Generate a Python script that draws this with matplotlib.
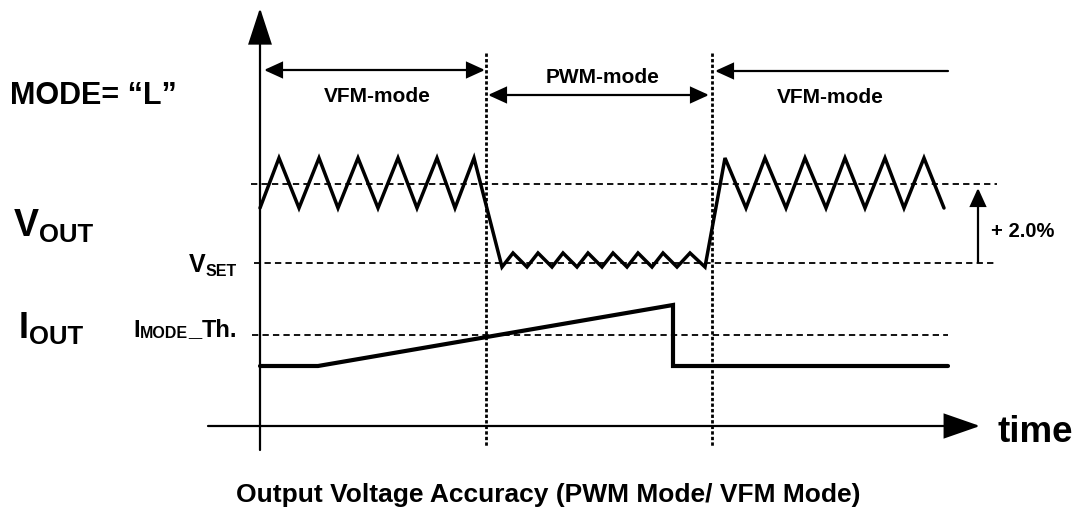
import matplotlib.pyplot as plt
from matplotlib.patches import FancyArrowPatch

plt.rcParams['font.family'] = ['Liberation Sans', 'DejaVu Sans']

# diagram units: pixels of the 1081x513 picture, y grows downward
vout_t = [260, 279, 299, 319, 338, 358, 378, 398, 417, 437, 455, 474,
          502, 513, 527, 538, 552, 563, 577, 588, 602, 613, 627, 638,
          652, 663, 677, 690, 705,
          725, 746, 765, 786, 805, 826, 845, 865, 885, 904, 924, 944]
vout_v = [208, 158, 208, 158, 208, 158, 208, 158, 208, 158, 208, 158,
          267, 253, 267, 253, 267, 253, 267, 253, 267, 253, 267, 253,
          267, 253, 267, 253, 267,
          158, 208, 158, 208, 158, 208, 158, 208, 158, 208, 158, 208]
iout_t = [260, 318, 673, 673, 948]
iout_v = [366, 366, 305, 366, 366]

v_upper = 184
v_set = 263
i_th = 335
mode_edges = [486, 712]
mode_names = ['VFM-mode', 'PWM-mode', 'VFM-mode']
title = 'Output Voltage Accuracy (PWM Mode/ VFM Mode)'

fig = plt.figure(figsize=(10.81, 5.13), dpi=100)
ax = fig.add_axes([0, 0, 1, 1])
ax.set_xlim(0, 1081)
ax.set_ylim(513, 0)
ax.axis('off')


def arrow(p0, p1, style, hl, hw, lw=1.6):
    ax.add_patch(FancyArrowPatch(p0, p1, arrowstyle=f'{style},head_length={hl},head_width={hw}',
                                 mutation_scale=1, lw=lw, color='black',
                                 shrinkA=0, shrinkB=0, joinstyle='miter'))


def label(x, y, parts, ha='left'):
    # parts: (text, fontsize, baseline shift)
    r = fig.canvas.get_renderer()
    objs = [ax.text(0, y + dy, s, fontsize=fs, fontweight='bold', va='baseline', ha='left')
            for s, fs, dy in parts]
    widths = [t.get_window_extent(r).width for t in objs]
    pos = x - sum(widths) if ha == 'right' else x
    for t, w in zip(objs, widths):
        t.set_x(pos)
        pos += w


# axes
arrow((260, 450), (260, 8), '-|>', 23, 7.5)
arrow((208, 426), (980, 426), '-|>', 23, 8)

# reference levels
dash = (0, (3.5, 2.3))
ax.plot([251, 997], [v_upper, v_upper], color='black', lw=1.3, ls=dash)
ax.plot([254, 997], [v_set, v_set], color='black', lw=1.3, ls=dash)
ax.plot([252, 948], [i_th, i_th], color='black', lw=1.3, ls=dash)

# mode boundaries
for x in mode_edges:
    ax.plot([x, x], [53, 446], color='black', lw=2, ls=(0, (1.2, 0.8)))

# waveforms
ax.plot(vout_t, vout_v, color='black', lw=2.5, solid_joinstyle='miter', solid_capstyle='round')
ax.plot(iout_t, iout_v, color='black', lw=3, solid_joinstyle='miter', solid_capstyle='round')

# mode arrows
arrow((264, 70), (485, 70), '<|-|>', 11, 5)
arrow((488, 95), (709, 95), '<|-|>', 11, 5)
arrow((948, 71), (715, 71), '-|>', 11, 5)
ax.text(377, 102, mode_names[0], fontsize=15, fontweight='bold', ha='center', va='baseline')
ax.text(603, 83, mode_names[1], fontsize=15, fontweight='bold', ha='center', va='baseline')
ax.text(830, 103, mode_names[2], fontsize=15, fontweight='bold', ha='center', va='baseline')

# +2.0% marker
arrow((978, 262), (978, 188), '-|>', 11, 5)
ax.text(991, 237, '+ 2.0%', fontsize=14.5, fontweight='bold', va='baseline')

# labels
ax.text(10, 104, 'MODE= \u201cL\u201d', fontsize=22, fontweight='bold', va='baseline')
label(14, 236, [('V', 27, 0), ('OUT', 18.5, 6)])
label(19, 338, [('I', 26, 0), ('OUT', 18.5, 6)])
label(237, 272, [('V', 18, 0), ('SET', 11.5, 4)], ha='right')
label(237, 337, [('I', 17, 0), ('MODE', 11.5, 1), ('_', 17, -1), ('Th.', 17, 0)], ha='right')
ax.text(997, 442, 'time', fontsize=26.5, fontweight='bold', va='baseline')

ax.text(548, 502, title, fontsize=19, fontweight='bold', ha='center', va='baseline')

fig.savefig('out.png', dpi=100, facecolor='white')
